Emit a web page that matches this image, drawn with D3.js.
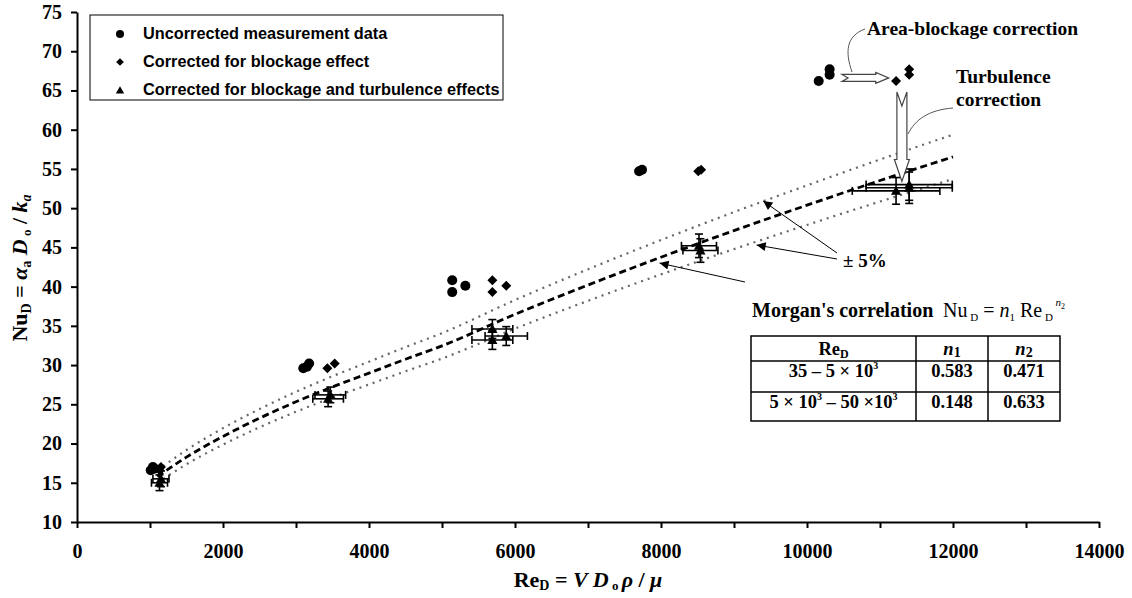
<!DOCTYPE html>
<meta charset="utf-8">
<head>
<style>
  body { margin: 0; background: #fff; }
  svg { font-family: "Liberation Serif", "Times New Roman", serif; }
  .axis path, .axis line { fill: none; stroke: #000; stroke-width: 2; }
  .axis text { font: bold 20px "Liberation Serif", serif; fill: #000; }
  .legend text { font: bold 16.3px "Liberation Sans", Arial, sans-serif; }
  .note { font: bold 20px "Liberation Serif", serif; }
</style>
</head>
<body>
<script src="https://cdn.jsdelivr.net/npm/d3@7"></script>
<script>
// uncorrected measurement data
var rawRe = [1010, 1040, 1060, 3100, 3180, 3150, 5140, 5140, 5320, 7700, 7740, 10160, 10310, 10310];
var rawNu = [16.6, 17.0, 16.8, 29.6, 30.2, 29.8, 40.8, 39.3, 40.1, 54.7, 54.9, 66.2, 67.7, 67.0];
// corrected for blockage
var blkRe = [1130, 1150, 3430, 3530, 5690, 5690, 5880, 8510, 8550, 11220, 11400, 11400];
var blkNu = [16.6, 17.0, 29.6, 30.2, 40.8, 39.3, 40.1, 54.7, 54.9, 66.2, 67.7, 67.0];
// corrected for blockage and turbulence (with error bars)
var turRe = [1130, 1150, 3440, 3470, 5690, 5690, 5880, 8520, 8540, 11220, 11400, 11400];
var turNu = [15.0, 15.5, 25.7, 26.2, 34.6, 33.2, 33.7, 45.2, 44.6, 52.2, 53.0, 52.6];
var turErrRe = [110, 110, 210, 210, 280, 280, 290, 240, 240, 600, 590, 590];
var turErrNu = [1.0, 1.0, 1.0, 1.0, 1.2, 1.2, 1.2, 1.5, 1.5, 1.7, 2.0, 2.0];
// Morgan's correlation and +/-5% band
var corrRe = [1100, 1500, 2000, 2500, 3000, 3500, 4000, 4500, 5000, 6000, 7000, 8000, 9000, 10000, 11000, 12000];
var corrNu = [15.78, 18.27, 20.91, 23.23, 25.32, 27.22, 28.98, 30.75, 32.45, 36.47, 40.20, 43.75, 47.14, 50.38, 53.52, 56.54];
var upNu = [16.57, 19.18, 21.96, 24.39, 26.59, 28.58, 30.43, 32.29, 34.07, 38.29, 42.21, 45.94, 49.50, 52.90, 56.20, 59.37];
var loNu = [14.99, 17.36, 19.86, 22.07, 24.05, 25.86, 27.53, 29.21, 30.83, 34.65, 38.19, 41.56, 44.78, 47.86, 50.84, 53.71];

var xTicks = d3.range(0, 14001, 1000);
var yTicks = d3.range(10, 76, 5);
var legendLabels = ["Uncorrected measurement data", "Corrected for blockage effect", "Corrected for blockage and turbulence effects"];
var tableRows = [["35 – 5 × 10", "0.583", "0.471"], ["5 × 10", "0.148", "0.633"]];

var W = 1132, H = 598;
var svg = d3.select("body").append("svg").attr("width", W).attr("height", H);

var x = d3.scaleLinear().domain([0, 14000]).range([77, 1099]);
var y = d3.scaleLinear().domain([10, 75]).range([522, 12]);

svg.append("defs").append("marker")
    .attr("id", "ah").attr("viewBox", "0 0 10 10").attr("refX", 10).attr("refY", 5)
    .attr("markerWidth", 12).attr("markerHeight", 9).attr("markerUnits", "userSpaceOnUse")
    .attr("orient", "auto")
  .append("path").attr("d", "M0,0L10,5L0,10z").attr("fill", "#000");

// axes
svg.append("g").attr("class", "axis").attr("transform", "translate(0,522)")
    .call(d3.axisBottom(x).tickValues(xTicks).tickSize(6).tickSizeOuter(0).tickPadding(16)
        .tickFormat(function(d) { return d % 2000 === 0 ? d : ""; }));
svg.append("g").attr("class", "axis").attr("transform", "translate(77,0)")
    .call(d3.axisLeft(y).tickValues(yTicks).tickSize(6).tickSizeOuter(0).tickPadding(9));

// correlation lines
var line = d3.line().curve(d3.curveMonotoneX);
function pts(arr) { return corrRe.map(function(r, i) { return [x(r), y(arr[i])]; }); }
[upNu, loNu].forEach(function(a) {
    svg.append("path").attr("d", line(pts(a))).attr("fill", "none")
        .attr("stroke", "#666").attr("stroke-width", 2.2).attr("stroke-dasharray", "2,5");
});
svg.append("path").attr("d", line(pts(corrNu))).attr("fill", "none")
    .attr("stroke", "#000").attr("stroke-width", 2.8).attr("stroke-dasharray", "7,4");

// error bars
var eb = svg.append("g").attr("stroke", "#000").attr("stroke-width", 1.6);
turRe.forEach(function(r, i) {
    var cx = x(r), cy = y(turNu[i]);
    var x0 = x(r - turErrRe[i]), x1 = x(r + turErrRe[i]);
    var y0 = y(turNu[i] - turErrNu[i]), y1 = y(turNu[i] + turErrNu[i]);
    eb.append("line").attr("x1", x0).attr("x2", x1).attr("y1", cy).attr("y2", cy);
    eb.append("line").attr("x1", x0).attr("x2", x0).attr("y1", cy - 4).attr("y2", cy + 4);
    eb.append("line").attr("x1", x1).attr("x2", x1).attr("y1", cy - 4).attr("y2", cy + 4);
    eb.append("line").attr("x1", cx).attr("x2", cx).attr("y1", y0).attr("y2", y1);
    eb.append("line").attr("x1", cx - 4).attr("x2", cx + 4).attr("y1", y0).attr("y2", y0);
    eb.append("line").attr("x1", cx - 4).attr("x2", cx + 4).attr("y1", y1).attr("y2", y1);
});

// markers
var diamond = d3.symbol().type(d3.symbolSquare).size(50);
var tri = d3.symbol().type(d3.symbolTriangle).size(45);
svg.append("g").selectAll("circle").data(rawRe).enter().append("circle")
    .attr("cx", function(d) { return x(d); })
    .attr("cy", function(d, i) { return y(rawNu[i]); })
    .attr("r", 5).attr("fill", "#000");
svg.append("g").selectAll("path").data(blkRe).enter().append("path")
    .attr("d", diamond)
    .attr("transform", function(d, i) { return "translate(" + x(d) + "," + y(blkNu[i]) + ") rotate(45)"; })
    .attr("fill", "#000");
svg.append("g").selectAll("path").data(turRe).enter().append("path")
    .attr("d", tri)
    .attr("transform", function(d, i) { return "translate(" + x(d) + "," + (y(turNu[i]) + 1) + ")"; })
    .attr("fill", "#000");

// legend
var lg = svg.append("g").attr("class", "legend");
lg.append("rect").attr("x", 90).attr("y", 15).attr("width", 413).attr("height", 85)
    .attr("fill", "#fff").attr("stroke", "#000").attr("stroke-width", 1);
legendLabels.forEach(function(t, i) {
    var ly = 33 + i * 28;
    if (i === 0) lg.append("circle").attr("cx", 120).attr("cy", ly + 1).attr("r", 4).attr("fill", "#000");
    if (i === 1) lg.append("path").attr("d", d3.symbol().type(d3.symbolSquare).size(30))
        .attr("transform", "translate(120," + (ly + 1) + ") rotate(45)");
    if (i === 2) lg.append("path").attr("d", d3.symbol().type(d3.symbolTriangle).size(30))
        .attr("transform", "translate(120," + (ly + 2) + ")");
    lg.append("text").attr("x", 143).attr("y", ly + 6).text(t);
});

// hollow arrows
function hollow(x0, y0, x1, y1, sw, hw, hl, notch) {
    var dx = x1 - x0, dy = y1 - y0, L = Math.sqrt(dx * dx + dy * dy);
    var ux = dx / L, uy = dy / L, nx = -uy, ny = ux;
    function p(a, b) { return [x0 + ux * a + nx * b, y0 + uy * a + ny * b]; }
    var ps = [p(0, -sw), p(L - hl, -sw), p(L - hl, -hw), p(L, 0), p(L - hl, hw), p(L - hl, sw), p(0, sw), p(notch, 0)];
    svg.append("path").attr("d", "M" + ps.join("L") + "Z")
        .attr("fill", "#fff").attr("stroke", "#444").attr("stroke-width", 1.2);
}
hollow(x(10480), y(66.6), x(11120), y(66.6), 3.5, 5.5, 13, 6);
hollow(x(11300), y(64.8), x(11300), y(53.4), 5, 7.5, 22, 14);

// leader curves
svg.append("path").attr("d", "M865,29 C846,36 845,52 852,72").attr("fill", "none").attr("stroke", "#555").attr("stroke-width", 1);
svg.append("path").attr("d", "M953,108 C928,110 915,120 908,134").attr("fill", "none").attr("stroke", "#555").attr("stroke-width", 1);

svg.append("text").attr("class", "note").attr("x", 867).attr("y", 35).style("font-size", "19.5px").text("Area-blockage correction");
svg.append("text").attr("class", "note").attr("x", 956).attr("y", 83).style("font-size", "19.5px").text("Turbulence");
svg.append("text").attr("class", "note").attr("x", 956).attr("y", 106).style("font-size", "19.5px").text("correction");

// +/-5% arrows
svg.append("line").attr("x1", 837).attr("y1", 253).attr("x2", x(9400)).attr("y2", y(50.9))
    .attr("stroke", "#000").attr("marker-end", "url(#ah)");
svg.append("line").attr("x1", 837).attr("y1", 259).attr("x2", x(9310)).attr("y2", y(45.3))
    .attr("stroke", "#000").attr("marker-end", "url(#ah)");
svg.append("text").attr("class", "note").attr("x", 843).attr("y", 267).style("font-size", "19px").text("± 5%");

// Morgan's correlation
svg.append("line").attr("x1", 745).attr("y1", 282).attr("x2", x(7980)).attr("y2", y(43.0))
    .attr("stroke", "#000").attr("marker-end", "url(#ah)");
svg.append("text").attr("class", "note").attr("x", 752).attr("y", 317).text("Morgan's correlation");
var f = svg.append("text").attr("x", 943).attr("y", 317).style("font-size", "20px");
f.append("tspan").text("Nu");
f.append("tspan").attr("dy", 4).style("font-size", "11px").text(" D");
f.append("tspan").attr("dy", -4).text(" = ");
f.append("tspan").style("font-style", "italic").text("n");
f.append("tspan").attr("dy", 4).style("font-size", "11px").text("1");
f.append("tspan").attr("dy", -4).text(" Re");
f.append("tspan").attr("dy", 4).style("font-size", "11px").text(" D");
f.append("tspan").attr("dy", -15).style("font-size", "11px").style("font-style", "italic").text(" n");
f.append("tspan").attr("dy", 3).style("font-size", "8px").text("2");

// table
var colX = [751, 916, 988, 1060], rowY = [336, 361, 392, 421];
var tb = svg.append("g").attr("stroke", "#000").attr("stroke-width", 1.5);
tb.append("rect").attr("x", 751).attr("y", 336).attr("width", 309).attr("height", 85).attr("fill", "#fff");
[916, 988].forEach(function(c) { tb.append("line").attr("x1", c).attr("x2", c).attr("y1", 336).attr("y2", 421); });
[361, 392].forEach(function(r) { tb.append("line").attr("x1", 751).attr("x2", 1060).attr("y1", r).attr("y2", r); });
function mid(i) { return (colX[i] + colX[i + 1]) / 2; }
var fs = "18.5px";
var h0 = svg.append("text").attr("class", "note").attr("x", mid(0)).attr("y", 355).attr("text-anchor", "middle").style("font-size", fs);
h0.append("tspan").text("Re");
h0.append("tspan").attr("dy", 3).style("font-size", "12px").text("D");
["1", "2"].forEach(function(s, k) {
    var t = svg.append("text").attr("class", "note").attr("x", mid(k + 1)).attr("y", 355).attr("text-anchor", "middle").style("font-size", fs);
    t.append("tspan").style("font-style", "italic").text("n");
    t.append("tspan").attr("dy", 2).style("font-size", "14px").text(s);
});
var r1 = svg.append("text").attr("class", "note").attr("x", mid(0)).attr("y", 377).attr("text-anchor", "middle").style("font-size", fs);
r1.append("tspan").text(tableRows[0][0]);
r1.append("tspan").attr("dy", -8).style("font-size", "10px").text("3");
var r2 = svg.append("text").attr("class", "note").attr("x", mid(0)).attr("y", 408).attr("text-anchor", "middle").style("font-size", fs);
r2.append("tspan").text(tableRows[1][0]);
r2.append("tspan").attr("dy", -8).style("font-size", "10px").text("3");
r2.append("tspan").attr("dy", 8).text(" – 50 ×10");
r2.append("tspan").attr("dy", -8).style("font-size", "10px").text("3");
tableRows.forEach(function(row, i) {
    [1, 2].forEach(function(c) {
        svg.append("text").attr("class", "note").attr("x", mid(c)).attr("y", [377, 408][i])
            .attr("text-anchor", "middle").style("font-size", fs).text(row[c]);
    });
});

// axis titles
var xl = svg.append("text").attr("class", "note").attr("x", 588).attr("y", 587).attr("text-anchor", "middle").style("font-size", "22px");
xl.append("tspan").text("Re");
xl.append("tspan").attr("dy", 3).style("font-size", "14px").text("D");
xl.append("tspan").attr("dy", -3).text(" = ");
xl.append("tspan").style("font-style", "italic").text("V  D");
xl.append("tspan").attr("dy", 3).style("font-size", "13px").text(" o ");
xl.append("tspan").attr("dy", -3).style("font-style", "italic").text("ρ");
xl.append("tspan").text(" / ");
xl.append("tspan").style("font-style", "italic").text("μ");

var yl = svg.append("text").attr("class", "note").attr("transform", "translate(27,268) rotate(-90)").attr("text-anchor", "middle").style("font-size", "22px");
yl.append("tspan").text("Nu");
yl.append("tspan").attr("dy", 4).style("font-size", "14px").text("D");
yl.append("tspan").attr("dy", -4).text(" = ");
yl.append("tspan").style("font-style", "italic").text("α");
yl.append("tspan").attr("dy", 4).style("font-size", "14px").text("a");
yl.append("tspan").attr("dy", -4).style("font-style", "italic").text(" D");
yl.append("tspan").attr("dy", 4).style("font-size", "13px").text(" o");
yl.append("tspan").attr("dy", -4).text(" / ");
yl.append("tspan").style("font-style", "italic").text("k");
yl.append("tspan").attr("dy", 4).style("font-size", "14px").style("font-style", "italic").text("a");
</script>
</body>
